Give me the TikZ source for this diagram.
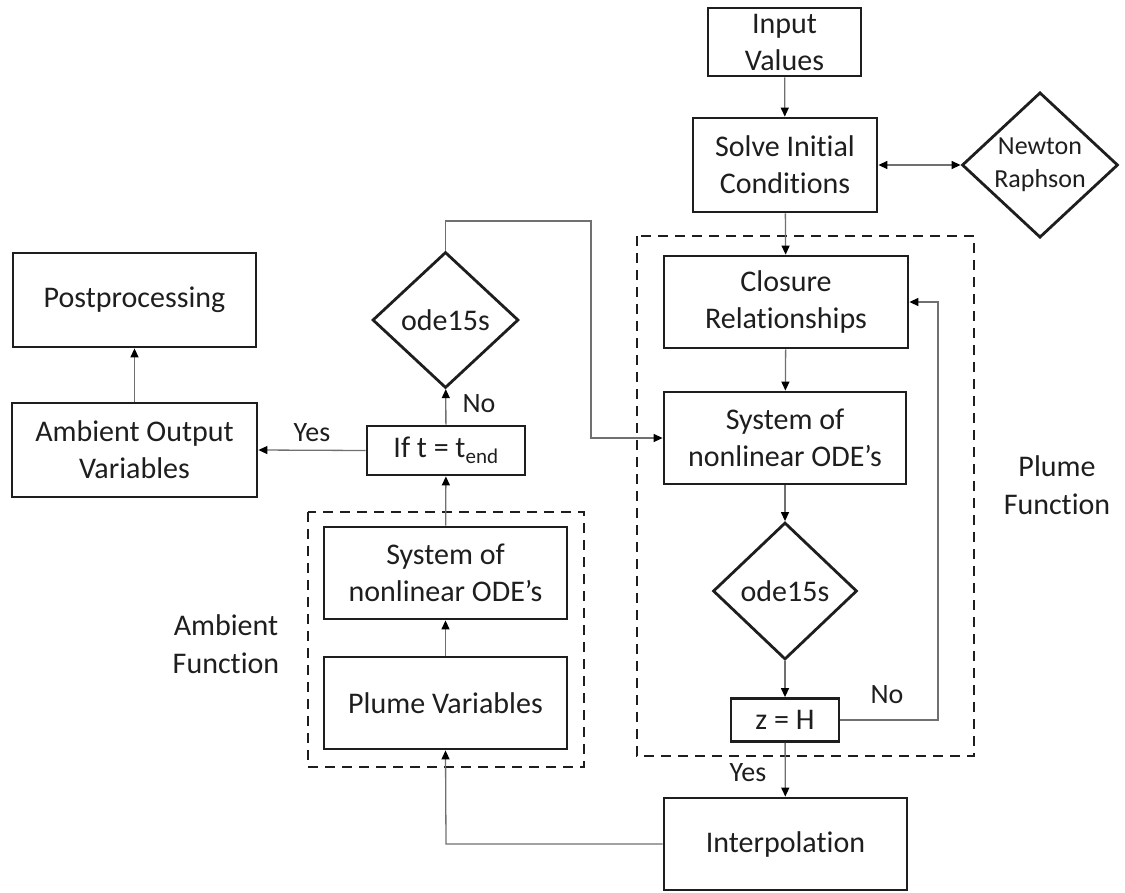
\documentclass[tikz,border=0pt]{standalone}
\usepackage{fontspec}
\setmainfont{Carlito}[Ligatures={NoCommon,NoContextual}]
\usetikzlibrary{shapes.geometric,arrows.meta}
\definecolor{ink}{HTML}{1E1E1E}
\definecolor{conn}{HTML}{707070}
\begin{document}
\begin{tikzpicture}[x=1pt,y=-1pt,
  box/.style={draw=ink,line width=2.8pt,inner sep=0pt,align=center,text=ink,
    font=\fontsize{30}{37}\selectfont},
  dia/.style={shape=diamond,draw=ink,line width=2.8pt,inner sep=0pt,align=center,text=ink,
    font=\fontsize{30}{37}\selectfont},
  grp/.style={draw=ink,line width=2.6pt,dash pattern=on 10pt off 7pt},
  lab/.style={text=ink,font=\fontsize{28}{34}\selectfont,inner sep=0pt},
  ttl/.style={text=ink,font=\fontsize{30}{38}\selectfont,align=center,inner sep=0pt},
  arr/.style={draw=conn,line width=1.3pt,-{Triangle[length=9pt,width=8pt,color=black]}},
  darr/.style={draw=conn,line width=1.3pt,{Triangle[length=9pt,width=8pt,color=black]}-{Triangle[length=9pt,width=8pt,color=black]}}
]
\useasboundingbox (0,0) rectangle (1125,892);
% group frames
\draw[grp] (637,236) rectangle (974,756);
\draw[grp] (308,512) rectangle (584,767);
% nodes
\node[box,minimum width=153pt,minimum height=68pt] (input) at (784.5,42) {Input\\Values};
\node[box,minimum width=184pt,minimum height=94pt] (solve) at (785,165) {Solve Initial\\Conditions};
\node[dia,minimum width=156pt,minimum height=137pt,font=\fontsize{26}{33}\selectfont] (newton) at (1040,165) {Newton\\Raphson};
\node[box,minimum width=244pt,minimum height=92pt] (closure) at (786,302) {Closure\\Relationships};
\node[box,minimum width=242pt,minimum height=92pt] (sysR) at (785,438) {System of\\nonlinear ODE’s};
\node[dia,minimum width=144pt,minimum height=137pt] (odeR) at (785,591) {ode15s};
\node[box,minimum width=108pt,minimum height=43pt] (zH) at (785,720) {z = H};
\node[box,minimum width=243pt,minimum height=92pt] (interp) at (785.5,844) {Interpolation};
\node[box,minimum width=243pt,minimum height=94pt] (post) at (134.5,300) {Postprocessing};
\node[box,minimum width=245pt,minimum height=94pt] (ambout) at (134.5,450) {Ambient Output\\Variables};
\node[box,minimum width=158pt,minimum height=49pt] (ift) at (446,450.5) {If t = t\textsubscript{end}};
\node[dia,minimum width=146pt,minimum height=136pt] (odeL) at (445.5,320) {ode15s};
\node[box,minimum width=243pt,minimum height=92pt] (sysL) at (445.5,573) {System of\\nonlinear ODE’s};
\node[box,minimum width=243pt,minimum height=92pt] (pvar) at (445.5,703) {Plume Variables};
% titles
\node[ttl] (plumefn) at (1057,485) {Plume\\Function};
\node[ttl] (ambfn) at (226,644) {Ambient\\Function};
% connector corner points
\coordinate (c1) at (445.5,221);
\coordinate (c2) at (591,221);
\coordinate (c3) at (591,438);
\coordinate (c4) at (938,720);
\coordinate (c5) at (938,302);
\coordinate (c6) at (446,844);
% connectors
\draw[arr] (input) -- (solve);
\draw[darr] (solve) -- (newton);
\draw[arr] (solve) -- (closure);
\draw[arr] (closure) -- (sysR);
\draw[arr] (sysR) -- (odeR);
\draw[arr] (odeR) -- (zH);
\draw[arr] (zH) -- (interp);
\draw[arr] (zH.east) -- (c4) -- (c5) -- (closure.east);
\draw[arr] (interp.west) -- (c6) -- (pvar.south);
\draw[arr] (pvar) -- (sysL);
\draw[arr] (sysL) -- (ift);
\draw[arr] (ift) -- (odeL);
\draw[arr] (odeL.north) -- (c1) -- (c2) -- (c3) -- (sysR.west);
\draw[arr] (ift.west) -- (ambout.east);
\draw[arr] (ambout) -- (post);
% labels
\node[lab] (yes1) at (312,433) {Yes};
\node[lab] (no1) at (479,404) {No};
\node[lab] (no2) at (887,695) {No};
\node[lab] (yes2) at (748,773) {Yes};
\end{tikzpicture}
\end{document}
